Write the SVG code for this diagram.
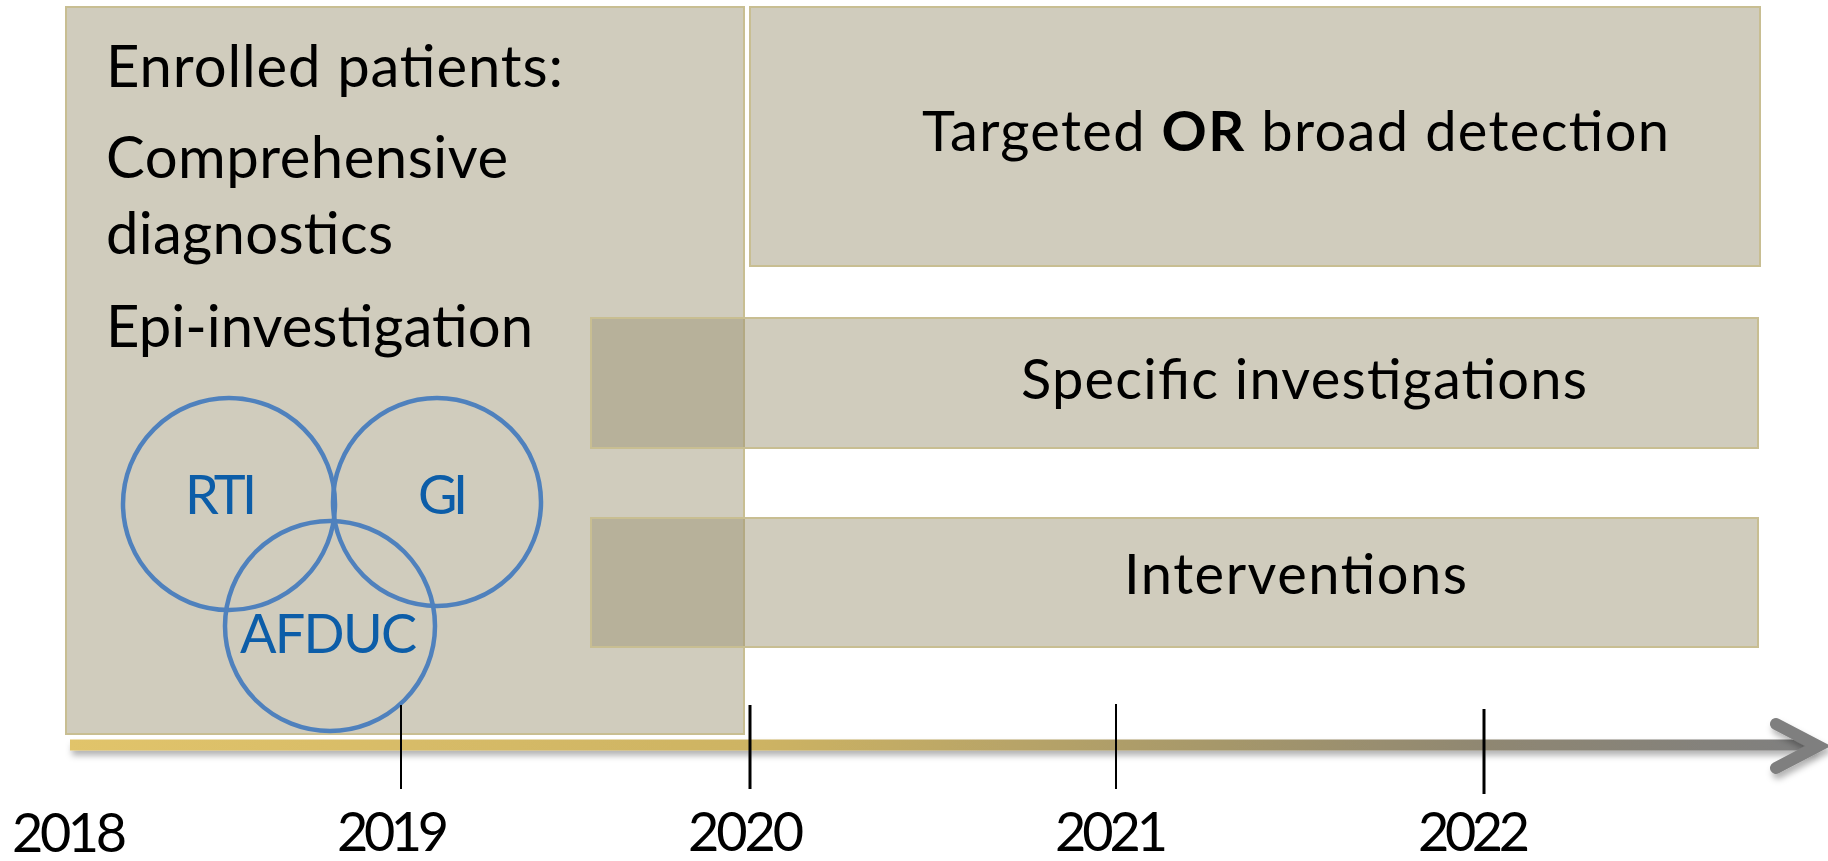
<svg xmlns="http://www.w3.org/2000/svg" width="1828" height="861" viewBox="0 0 1828 861">
<style>
.box{fill:#9B9273;fill-opacity:0.47;stroke:#C8BE92;stroke-width:2}
.t{font-family:Lato,"Open Sans","Liberation Sans",sans-serif;fill:#000}
.c{fill:none;stroke:#4F81BD;stroke-width:4.5}
.cl{font-family:Lato,"Open Sans","Liberation Sans",sans-serif;fill:#0C5DA8;font-size:54px}
.tick{stroke:#000}
.yr{font-family:Lato,"Open Sans","Liberation Sans",sans-serif;fill:#000;font-size:54px}
</style>
<defs>
<linearGradient id="axg" x1="70" y1="0" x2="1800" y2="0" gradientUnits="userSpaceOnUse">
<stop offset="0" stop-color="#E1C46B"/>
<stop offset="0.4" stop-color="#CDB363"/>
<stop offset="0.65" stop-color="#A8996A"/>
<stop offset="0.82" stop-color="#8F8772"/>
<stop offset="1" stop-color="#7F7F7F"/>
</linearGradient>
<filter id="sh" filterUnits="userSpaceOnUse" x="0" y="690" width="1828" height="110">
<feDropShadow dx="2" dy="5" stdDeviation="3" flood-color="#000" flood-opacity="0.3"/>
</filter>
</defs>

<g id="enrolled">
<rect class="box" x="66" y="7" width="678" height="727"/>
<text class="t" x="106" y="87" font-size="58" textLength="457">Enrolled patients:</text>
<text class="t" x="106" y="178" font-size="58" textLength="402">Comprehensive</text>
<text class="t" x="106" y="254" font-size="58" textLength="287">diagnostics</text>
<text class="t" x="106" y="347" font-size="58" textLength="427">Epi-investigation</text>
</g>

<g id="detection">
<rect class="box" x="750" y="7" width="1010" height="259"/>
<text class="t" x="922" y="151" font-size="56" textLength="747"><tspan>Targeted </tspan><tspan font-weight="bold">OR</tspan><tspan> broad detection</tspan></text>
</g>

<g id="specific">
<rect class="box" x="591" y="318" width="1167" height="130"/>
<text class="t" x="1021" y="399" font-size="56" textLength="566">Specific investigations</text>
</g>

<g id="interventions">
<rect class="box" x="591" y="518" width="1167" height="129"/>
<text class="t" x="1124" y="594" font-size="56" textLength="343">Interventions</text>
</g>

<g id="rti">
<circle class="c" cx="229" cy="504" r="106"/>
<text class="cl" x="185" y="514" textLength="72">RTI</text>
</g>
<g id="gi">
<circle class="c" cx="437" cy="502" r="104"/>
<text class="cl" x="418" y="514" textLength="50">GI</text>
</g>
<g id="afduc">
<circle class="c" cx="330" cy="626" r="105"/>
<text class="cl" x="240" y="653" textLength="177">AFDUC</text>
</g>

<g id="axis">
<rect x="70" y="739.5" width="1744" height="11" fill="url(#axg)" filter="url(#sh)"/>
<polyline points="1776,724 1818,746 1776,768" fill="none" stroke="#7F7F7F" stroke-width="12" stroke-linecap="round" stroke-linejoin="miter" filter="url(#sh)"/>
<line class="tick" x1="401" y1="705" x2="401" y2="789" stroke-width="2"/>
<line class="tick" x1="750" y1="705" x2="750" y2="789" stroke-width="3"/>
<line class="tick" x1="1116" y1="704" x2="1116" y2="789" stroke-width="2"/>
<line class="tick" x1="1484" y1="709" x2="1484" y2="794" stroke-width="3"/>
</g>

<g id="years">
<text class="yr" x="12" y="852" textLength="115">2018</text>
<text class="yr" x="337" y="851" textLength="112">2019</text>
<text class="yr" x="688" y="851" textLength="116">2020</text>
<text class="yr" x="1055" y="851" textLength="113">2021</text>
<text class="yr" x="1418" y="851" textLength="112">2022</text>
</g>
</svg>
